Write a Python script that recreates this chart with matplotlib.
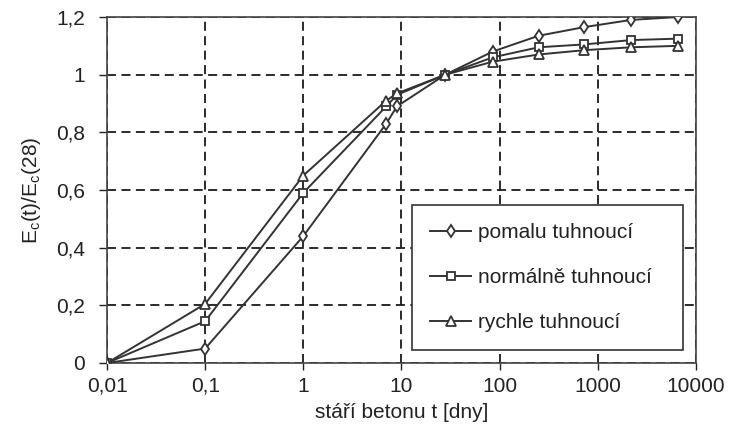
import matplotlib
matplotlib.use("Agg")
import matplotlib.pyplot as plt

plt.rcParams['font.family'] = ['Liberation Sans', 'DejaVu Sans']

# stari betonu t [dny]
t = [0.01, 0.1, 1, 7, 9, 28, 85, 250, 730, 2200, 6600]
# Ec(t)/Ec(28)
pomalu = [0, 0.05, 0.44, 0.83, 0.89, 1.0, 1.08, 1.135, 1.165, 1.19, 1.2]
normalne = [0, 0.145, 0.59, 0.89, 0.93, 1.0, 1.06, 1.095, 1.105, 1.12, 1.125]
rychle = [0, 0.205, 0.65, 0.91, 0.935, 1.0, 1.045, 1.07, 1.085, 1.095, 1.10]

labels = ['pomalu tuhnoucí', 'normálně tuhnoucí', 'rychle tuhnoucí']
markers = ['d', 's', '^']
msizes = [6.5, 6.0, 6.5]

xticks = [0.01, 0.1, 1, 10, 100, 1000, 10000]
xticklabels = ['0,01', '0,1', '1', '10', '100', '1000', '10000']
yticks = [0, 0.2, 0.4, 0.6, 0.8, 1.0, 1.2]
yticklabels = ['0', '0,2', '0,4', '0,6', '0,8', '1', '1,2']

ink = '#222222'
fs = 15

fig = plt.figure(figsize=(7.34, 4.43), dpi=100)
fig.subplots_adjust(left=0.1458, right=0.948, bottom=0.1806, top=0.9616)
ax = fig.add_subplot(111)

for ser, lab, m, ms in zip([pomalu, normalne, rychle], labels, markers, msizes):
    ax.plot(t, ser, color='#333333', lw=1.4, marker=m, ms=ms,
            mfc='white', mec='#333333', mew=1.3, label=lab, zorder=3)

ax.set_xscale('log')
ax.set_xlim(0.01, 10000)
ax.set_ylim(0, 1.2)
ax.set_xticks(xticks)
ax.set_xticklabels(xticklabels)
ax.minorticks_off()
ax.set_yticks(yticks)
ax.set_yticklabels(yticklabels)

ax.grid(True, color='#1a1a1a', lw=1.3, linestyle=(0, (5, 3)))
ax.tick_params(axis='x', length=5, width=1.0, pad=5, labelsize=fs, colors=ink)
ax.tick_params(axis='y', length=6, width=1.0, pad=10, labelsize=fs, colors=ink)
for s in ax.spines.values():
    s.set_color('#444444')
    s.set_linewidth(1.2)

ax.set_xlabel('stáří betonu t [dny]', fontsize=fs, color=ink, labelpad=5)
ax.set_ylabel(r'E$_\mathregular{c}$(t)/E$_\mathregular{c}$(28)', fontsize=fs,
              color=ink, labelpad=9)

leg = ax.legend(loc='lower left', bbox_to_anchor=(0.518, 0.038, 0.46, 0.45),
                mode='expand', fontsize=fs, frameon=True, fancybox=False,
                framealpha=1, edgecolor='#333333', borderpad=0.85,
                labelspacing=1.25, handlelength=2.0, handletextpad=0.3,
                borderaxespad=0)
leg.get_frame().set_linewidth(1.2)
for txt in leg.get_texts():
    txt.set_color(ink)

fig.savefig('out.png', dpi=100)
